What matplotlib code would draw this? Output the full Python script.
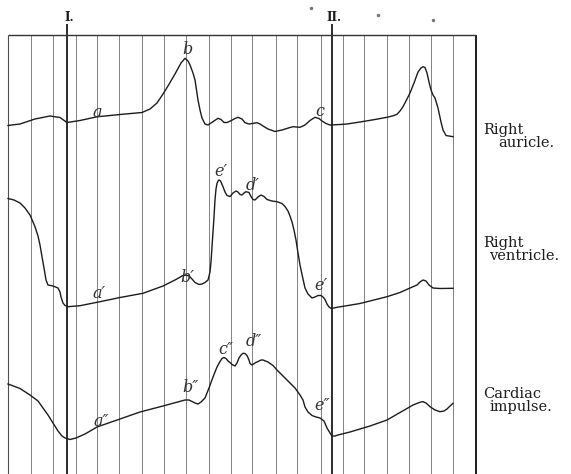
"""Polygraph tracing: right auricle, right ventricle and cardiac impulse.

Redrawn on a 571x474 px canvas; x and y below are read off the scan in
pixel units (y grows downwards), one vertical line per time mark.
"""
import matplotlib
matplotlib.use("Agg")
import matplotlib.pyplot as plt

# ----------------------------- data -----------------------------

# time-marker lines and the two reference lines I. / II.
time_lines = [31, 53, 76, 97, 119, 142, 164, 186, 209, 231, 252, 276,
              297, 321, 343, 364, 387, 409, 431, 453]
ref_lines = [67, 332]
ref_labels = ["I.", "II."]

# right auricle
auricle_x = [8, 20, 35, 50, 60, 67, 80, 97, 120, 142, 150, 157, 163, 168, 175,
             181, 185, 188, 190, 193, 195, 198, 200, 202, 205, 208, 211, 214,
             218, 221, 224, 227, 231, 235, 238, 242, 245, 249, 252, 257, 260,
             263, 268, 275, 282, 290, 293, 300, 305, 310, 315, 319, 322, 326,
             330, 340, 347, 360, 375, 387, 393, 397, 400, 403, 407, 410, 414,
             418, 421, 423, 425, 427, 429, 431, 433, 435, 438, 441, 443, 446,
             453]
auricle_y = [125.5, 124, 119, 116, 117.5, 122.5, 120.5, 116.8, 114.5, 112.5,
             109, 103, 94, 86, 74, 63, 58.3, 61, 65, 73, 80, 100, 110, 118, 124,
             125, 123, 121, 118.3, 119.5, 122.5, 122.5, 120.7, 118.5, 117.3,
             119, 122.7, 124, 123.5, 122.7, 124, 126, 129, 131.5, 130, 127.5,
             126.7, 127.3, 125, 120.5, 117.3, 118.5, 121, 123.5, 125, 124.5,
             124, 122, 119.5, 117.3, 115.8, 114.3, 111, 106.7, 99, 93, 83, 72,
             68, 66.7, 67.5, 73, 82, 90, 95, 98, 108, 122, 130, 135.5, 136.7]

# right ventricle
ventricle_x = [8, 14, 20, 25, 30, 35, 38, 40, 42, 44, 46, 48, 53, 58, 60, 61,
               63, 65, 68, 80, 100, 120, 143, 163, 175, 183, 186, 189, 192, 195,
               199, 202, 205, 208, 210, 211, 212, 213, 214, 215, 216, 217, 218,
               219, 220, 221, 223, 225, 227, 230, 233, 236, 238, 240, 242, 244,
               246, 249, 251, 253, 255, 258, 261, 264, 267, 272, 277, 282, 285,
               288, 290, 292, 294, 296, 298, 300, 303, 305, 308, 312, 315, 318,
               321, 323, 325, 327, 329, 331, 334, 337, 345, 360, 387, 400, 410,
               417, 420, 423, 426, 429, 433, 440, 453]
ventricle_y = [198.5, 200, 203, 208, 215, 226.7, 236, 245, 256.7, 268, 280, 285,
               286, 288, 292, 297, 303, 305.5, 306.7, 305.7, 301.7, 297.5, 293.3,
               286, 280, 275.5, 275, 276, 279, 282.5, 284.5, 284, 282.5, 280, 272,
               262, 246.7, 232, 217, 200, 189, 183.5, 181, 180, 180.5, 182,
               186.7, 192, 195.5, 196.5, 193, 191, 192, 194.5, 195, 193, 191.7,
               192.5, 196.5, 199.5, 200, 197, 195, 196.5, 199.5, 201, 201.7,
               203.5, 206.5, 211, 216, 222, 230, 240, 253, 265, 279, 288, 294,
               298, 297, 295.5, 295.5, 297, 299.5, 304, 307, 308.3, 308, 307.3,
               306, 303.5, 296.7, 292.5, 288, 285, 282, 280, 281, 285, 288,
               288.5, 288.3]

# cardiac impulse
impulse_x = [8, 20, 30, 38, 43, 48, 53, 58, 62, 65, 70, 76, 85, 97, 120, 140,
             163, 185, 189, 192, 195, 198, 201, 205, 209, 213, 217, 220, 222,
             224, 226, 228, 230, 232, 235, 237, 239, 241, 243, 245, 247, 249,
             250, 252, 255, 258, 261, 263, 268, 273,
             277, 283, 290, 295, 300, 303, 305, 308, 312, 316, 320, 324, 327,
             330, 332, 335, 338, 350, 370, 387, 400, 407, 413, 418, 421, 423,
             426, 430, 435, 440, 444, 447, 450, 453]
impulse_y = [384, 388.5, 395, 401, 408, 415, 423, 431, 436, 438, 439.5, 438,
             434, 427, 419, 412, 406, 400, 400, 401.5, 403, 404, 402, 398, 388,
             377, 367, 361.5, 358.5, 357.5, 358.5, 361, 362.5, 364.5, 366, 363,
             358, 355, 353.3, 353.5, 355.5, 360, 363.5, 365, 363, 361.5, 360,
             360, 362, 365.5,
             370, 376, 383, 388, 395, 400, 407, 412, 415.5, 417, 418, 421, 428,
             433, 436, 436, 435, 432, 426, 420, 412.5, 408.5, 405, 403, 402,
             401.7, 403, 406.7, 410, 411.7, 411, 409, 406, 403.3]

traces = [("auricle", auricle_x, auricle_y),
          ("ventricle", ventricle_x, ventricle_y),
          ("impulse", impulse_x, impulse_y)]

# wave letters (text, x, y)
wave_labels = [("a", 97, 112), ("b", 187, 49), ("c", 320, 111),
               ("e\u2032", 221, 171), ("d\u2032", 253, 185),
               ("a\u2032", 99, 293), ("b\u2032", 187, 277), ("e\u2032", 321, 286),
               ("c\u2033", 226, 349), ("d\u2033", 254, 341),
               ("a\u2033", 101, 422), ("b\u2033", 190, 387), ("e\u2033", 322, 405)]

# side captions: (first line, second line, y of first line)
captions = [("Right", "auricle.", 128), ("Right", "ventricle.", 241),
            ("Cardiac", "impulse.", 392)]
caption_indent = [498, 489, 490]

# ----------------------------- drawing -----------------------------

W, H = 571, 474
fig = plt.figure(figsize=(W / 100, H / 100), dpi=100)
ax = fig.add_axes([0, 0, 1, 1])
ax.set_xlim(0, W)
ax.set_ylim(H, 0)
ax.axis("off")

TOP, LEFT, RIGHT = 35, 8, 476
INK = "#1c1c1c"

ax.vlines(time_lines, TOP, H, color="#6e6e6e", lw=0.6)
ax.vlines(ref_lines, 24, H, color=INK, lw=1.3)
ax.vlines([LEFT], TOP, H, color="#505050", lw=0.8)
ax.vlines([RIGHT], TOP, H, color=INK, lw=1.4)
ax.hlines([TOP], LEFT, RIGHT, color="#333333", lw=1.0)

for name, xs, ys in traces:
    ax.plot(xs, ys, color=INK, lw=1.0, solid_joinstyle="round")

for x, lab in zip(ref_lines, ref_labels):
    ax.text(x + 2, 21, lab, ha="center", va="baseline", fontsize=8.5,
            fontweight="bold", family="DejaVu Serif", color=INK)

for lab, x, y in wave_labels:
    ax.text(x, y, lab, ha="center", va="center", fontsize=11.5,
            style="italic", family="DejaVu Serif", color="#333333")

for (l1, l2, y), x2 in zip(captions, caption_indent):
    ax.text(483, y + 6, l1, ha="left", va="baseline", fontsize=10.5,
            family="DejaVu Serif", color=INK)
    ax.text(x2, y + 19, l2, ha="left", va="baseline", fontsize=10.5,
            family="DejaVu Serif", color=INK)

# specks of the original print
ax.plot([311, 378, 433], [8, 15, 20], ls="none", marker="o", ms=1.5,
        color="#777777")

fig.savefig("out.png", dpi=100)
